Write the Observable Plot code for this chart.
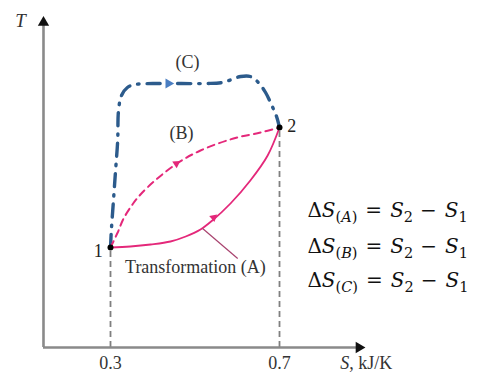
<!DOCTYPE html>
<html>
<head>
<meta charset="utf-8">
<script src="https://cdn.jsdelivr.net/npm/d3@7"></script>
<script src="https://cdn.jsdelivr.net/npm/@observablehq/plot@0.6"></script>
<style>
  html, body { margin: 0; padding: 0; background: #fff; }
  #chart svg { display: block; }
</style>
</head>
<body>
<div id="chart"></div>
<script>
// ---- Data (S in kJ/K, T in arbitrary units) ----
const pathA_S = [0.300, 0.347, 0.395, 0.442, 0.478, 0.513, 0.541, 0.584, 0.631, 0.672, 0.700];
const pathA_T = [10.0, 10.1, 10.3, 10.6, 11.1, 11.8, 12.7, 14.4, 16.7, 19.2, 22.0];

const pathB_S = [0.300, 0.317, 0.331, 0.352, 0.371, 0.411, 0.461, 0.513, 0.591, 0.655, 0.700];
const pathB_T = [10.0, 11.5, 12.9, 14.3, 15.3, 16.9, 18.5, 19.7, 20.9, 21.5, 22.0];

const pathC_S = [0.300, 0.302, 0.307, 0.312, 0.317, 0.319, 0.326, 0.340, 0.359, 0.418, 0.525, 0.565, 0.608, 0.631, 0.650, 0.667, 0.683, 0.693, 0.700];
const pathC_T = [10.0, 11.7, 14.7, 17.7, 20.7, 23.7, 25.2, 26.0, 26.3, 26.4, 26.4, 26.5, 27.1, 27.1, 26.5, 25.5, 24.1, 23.1, 22.0];

const stateNames = ["1", "2"];
const stateS = [0.3, 0.7];
const stateT = [10.0, 22.0];
const stateLabelS = [0.271, 0.729];
const stateLabelT = [9.6, 22.1];

const tickValues = [0.3, 0.7];
const tickLabels = ["0.3", "0.7"];

// direction arrows on the paths
const arrowPath = ["A", "B", "C"];
const arrowS = [0.544, 0.456, 0.437];
const arrowT = [13.0, 18.4, 26.4];
const arrowAngle = [50, 57, 90];

// path labels
const pathLabelText = ["(C)", "(B)", "Transformation (A)"];
const pathLabelS = [0.482, 0.468, 0.501];
const pathLabelT = [28.5, 21.4, 8.0];

// callout from label to path A
const calloutS = [0.518, 0.601];
const calloutT = [11.9, 8.9];

// formula rows
const formulaLetters = ["A", "B", "C"];
const formulaS = [0.766, 0.766, 0.766];
const formulaT = [13.7, 10.1, 6.7];

// axes
const axisS0 = 0.1414, axisSEnd = 0.888, axisTTop = 32.5;
const axisLabelX = "S, kJ/K";
const axisLabelY = "T";

const zip = (xs, ys) => xs.map((x, i) => ({S: x, T: ys[i]}));
const pA = zip(pathA_S, pathA_T);
const pB = zip(pathB_S, pathB_T);
const pC = zip(pathC_S, pathC_T);
const states = stateNames.map((n, i) => ({name: n, S: stateS[i], T: stateT[i], lS: stateLabelS[i], lT: stateLabelT[i]}));
const arrows = arrowPath.map((p, i) => ({p, S: arrowS[i], T: arrowT[i], a: arrowAngle[i]}));
const labels = pathLabelText.map((t, i) => ({t, S: pathLabelS[i], T: pathLabelT[i]}));
const formulas = formulaLetters.map((l, i) => ({l, S: formulaS[i], T: formulaT[i]}));

const pink = "#e4287a";
const navy = "#2c5b8c";
const serif = "'Liberation Serif', 'Times New Roman', serif";
const mathSerif = "'DejaVu Serif', serif";

const svg = Plot.plot({
  width: 477,
  height: 373,
  margin: 0,
  style: {background: "#fff", fontFamily: serif},
  x: {domain: [0, 1], range: [-16.75, 405.75], axis: null},
  y: {domain: [0, 35], range: [347, -3], axis: null},
  marks: [
    // dashed drop lines
    Plot.ruleX(states, {x: "S", y1: 0, y2: "T", stroke: "#808080", strokeWidth: 1.8, strokeDasharray: "6,4"}),
    // axes
    Plot.ruleY([0], {x1: axisS0, x2: axisSEnd, stroke: "#8a8a8a", strokeWidth: 2.6}),
    Plot.ruleX([axisS0], {y1: 0, y2: axisTTop, stroke: "#8a8a8a", strokeWidth: 2.6}),
    Plot.dot([{S: axisSEnd, T: 0}], {x: "S", y: "T", symbol: "triangle", r: 4.2, fill: "#111", stroke: "none", rotate: 90}),
    Plot.dot([{S: axisS0, T: axisTTop}], {x: "S", y: "T", symbol: "triangle", r: 4.2, fill: "#111", stroke: "none"}),
    // path C
    Plot.line(pC, {x: "S", y: "T", curve: "catmull-rom", stroke: navy, strokeWidth: 3.4, strokeDasharray: "13,8,1.5,8", strokeLinecap: "round"}),
    // path B
    Plot.line(pB, {x: "S", y: "T", curve: "catmull-rom", stroke: pink, strokeWidth: 2, strokeDasharray: "7,5"}),
    // path A
    Plot.line(pA, {x: "S", y: "T", curve: "catmull-rom", stroke: pink, strokeWidth: 1.8}),
    // callout
    Plot.link([0], {x1: () => calloutS[0], y1: () => calloutT[0], x2: () => calloutS[1], y2: () => calloutT[1], stroke: "#a8426e", strokeWidth: 1.2}),
    // direction arrows
    Plot.dot(arrows, {x: "S", y: "T", symbol: "triangle", rotate: "a", stroke: "none",
      r: d => d.p === "C" ? 7 : 4.5,
      fill: d => d.p === "C" ? "#4a7ec2" : pink}),
    // states
    Plot.dot(states, {x: "S", y: "T", r: 3, fill: "#000", stroke: "none"}),
    Plot.text(states, {x: "lS", y: "lT", text: "name", fontSize: 18, fill: "#222", fontFamily: serif}),
    // path labels
    Plot.text(labels, {x: "S", y: "T", text: "t", fontSize: 18, fill: "#333", fontFamily: serif}),
    // tick labels
    Plot.text(tickValues, {x: d => d, y: -1.6, text: (d, i) => tickLabels[i], fontSize: 18, fill: "#333", fontFamily: serif}),
    // axis titles
    Plot.text([axisLabelX], {x: 0.8435, y: -1.6, text: d => d, textAnchor: "start", fontSize: 18, fill: "#333", fontFamily: serif, ariaDescription: "xlabel"}),
    Plot.text([axisLabelY], {x: 0.087, y: 32.7, text: d => d, fontSize: 19, fill: "#333", fontFamily: serif, fontStyle: "italic"}),
    // formulas
    Plot.text(formulas, {x: "S", y: "T", text: "l", textAnchor: "start", fontSize: 20, fill: "#111", fontFamily: mathSerif, ariaDescription: "formula"})
  ]
});

// build sub/italic structure for the formulas
d3.select(svg).selectAll('g[aria-description="formula"] text').each(function() {
  const t = d3.select(this);
  const letter = t.text();
  t.text(null);
  const parts = [
    {s: "Δ"}, {s: "S", it: true},
    {s: "(", sub: true}, {s: letter, it: true, sub: true}, {s: ")", sub: true},
    {s: "=", dx: 8}, {s: "S", it: true, dx: 8}, {s: "2", sub: true},
    {s: "−", dx: 7}, {s: "S", it: true, dx: 8}, {s: "1", sub: true}
  ];
  let shifted = false;
  for (const p of parts) {
    const ts = t.append("tspan").text(p.s);
    if (p.it) ts.attr("font-style", "italic");
    if (p.dx) ts.attr("dx", p.dx);
    if (p.sub) {
      ts.attr("font-size", 14.5);
      if (!shifted) { ts.attr("dy", 5); shifted = true; }
    } else if (shifted) {
      ts.attr("dy", -5); shifted = false;
    }
  }
});
// italic S in x-axis title
d3.select(svg).selectAll('g[aria-description="xlabel"] text').each(function() {
  const t = d3.select(this);
  const s = t.text();
  t.text(null);
  t.append("tspan").attr("font-style", "italic").text(s.slice(0, 1));
  t.append("tspan").text(s.slice(1));
});

document.getElementById("chart").appendChild(svg);
</script>
</body>
</html>
